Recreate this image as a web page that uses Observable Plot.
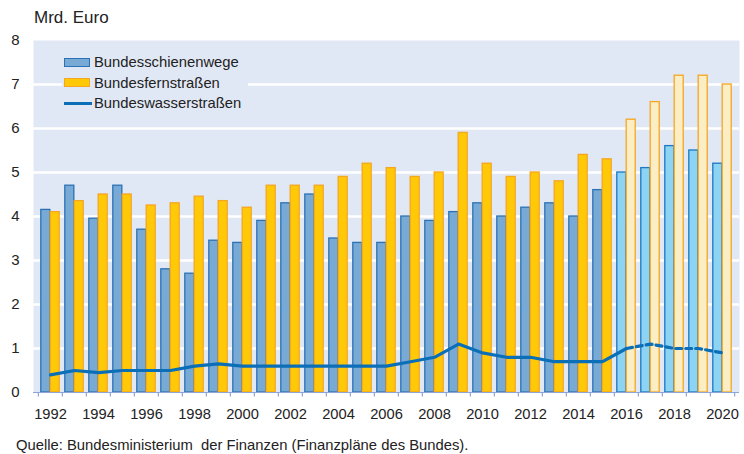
<!DOCTYPE html>
<html>
<head>
<meta charset="utf-8">
<script src="https://cdn.jsdelivr.net/npm/d3@7"></script>
<script src="https://cdn.jsdelivr.net/npm/@observablehq/plot@0.6"></script>
<style>
  html, body { margin: 0; padding: 0; background: #fff; }
  body { font-family: "Liberation Sans", Arial, sans-serif; color: #222; }
  #wrap { position: relative; width: 744px; height: 454px; }
  #unit { position: absolute; left: 34px; top: 8px; font-size: 17px; }
  #legend { position: absolute; left: 62px; top: 50px; width: 186px; height: 62px; background: #e1e8f5; font-size: 14.8px; }
  .row { position: absolute; left: 2px; height: 20px; display: flex; align-items: center; }
  .sw { width: 24px; height: 7px; margin-right: 4px; }
  .ln { width: 28px; height: 3px; margin-right: 2px; background: #0b6fb8; }
  #caption { position: absolute; left: 16px; top: 437px; font-size: 14.8px; white-space: nowrap; }
  #chart { position: absolute; left: 0; top: 0; }
</style>
</head>
<body>
<div id="wrap">
  <div id="chart"></div>
  <div id="unit">Mrd. Euro</div>
  <div id="legend"></div>
  <div id="caption">Quelle: Bundesministerium&nbsp; der Finanzen (Finanzpläne des Bundes).</div>
</div>
<script>
const years = [1992,1993,1994,1995,1996,1997,1998,1999,2000,2001,2002,2003,2004,2005,2006,2007,2008,2009,2010,2011,2012,2013,2014,2015,2016,2017,2018,2019,2020];
const schiene = [4.15,4.7,3.95,4.7,3.7,2.8,2.7,3.45,3.4,3.9,4.3,4.5,3.5,3.4,3.4,4.0,3.9,4.1,4.3,4.0,4.2,4.3,4.0,4.6,5.0,5.1,5.6,5.5,5.2];
const fernstrassen = [4.1,4.35,4.5,4.5,4.25,4.3,4.45,4.35,4.2,4.7,4.7,4.7,4.9,5.2,5.1,4.9,5.0,5.9,5.2,4.9,5.0,4.8,5.4,5.3,6.2,6.6,7.2,7.2,7.0];
const wasser = [0.4,0.5,0.45,0.5,0.5,0.5,0.6,0.65,0.6,0.6,0.6,0.6,0.6,0.6,0.6,0.7,0.8,1.1,0.9,0.8,0.8,0.7,0.7,0.7,1.0,1.1,1.0,1.0,0.9];
const seriesNames = ["Bundesschienenwege","Bundesfernstraßen","Bundeswasserstraßen"];
const firstProjection = 2016;
const yTicks = [0,1,2,3,4,5,6,7,8];
const xLabelTicks = years.filter(y => y % 2 === 0);

const rows = years.map((y, i) => ({year: y, s: schiene[i], f: fernstrassen[i], w: wasser[i], proj: y >= firstProjection}));

const W = 744, H = 425, mL = 33, mR = 5, mT = 40, mB = 33;
const bw = (W - mL - mR) / years.length;
const outer = 2.8;
const half = bw / 2;

const solid = rows.filter(d => d.year <= firstProjection);
const dashed = rows.filter(d => d.year >= firstProjection);

const chart = Plot.plot({
  width: W, height: H,
  marginLeft: mL, marginRight: mR, marginTop: mT, marginBottom: mB,
  style: {fontFamily: '"Liberation Sans", Arial, sans-serif', color: "#222", background: "transparent"},
  x: {type: "band", domain: years, padding: 0},
  y: {domain: [0, 8]},
  marks: [
    Plot.frame({fill: "#e1e8f5", stroke: null}),
    Plot.ruleY(yTicks.filter(t => t > 0 && t < 8), {stroke: "#fff", strokeWidth: 2.5}),
    Plot.barY(rows, {x: "year", y: "s", insetLeft: outer, insetRight: half,
      fill: d => d.proj ? "#8dd3f3" : "#79aad6", stroke: d => d.proj ? "#1b78c2" : "#2a72b5", strokeWidth: 1.3}),
    Plot.barY(rows, {x: "year", y: "f", insetLeft: half, insetRight: outer,
      fill: d => d.proj ? "#fbedc4" : "#ffc907", stroke: "#f5a623", strokeWidth: 1.3}),
    Plot.line(solid, {x: "year", y: "w", stroke: "#0b6fb8", strokeWidth: 3.2}),
    Plot.line(dashed, {x: "year", y: "w", stroke: "#0b6fb8", strokeWidth: 3.2, strokeDasharray: "6,4"}),
    Plot.ruleY([0], {stroke: "#8fa5d8", strokeWidth: 1.2}),
    Plot.ruleX(years, {x: d => d, dx: -half, y1: 0, y2: -0.1, stroke: "#8fa5d8", strokeWidth: 1.2}),
    Plot.ruleX(years.slice(-1), {x: d => d, dx: half, y1: 0, y2: -0.1, stroke: "#8fa5d8", strokeWidth: 1.2}),
    Plot.axisX({ticks: xLabelTicks, tickFormat: d => String(d), tickSize: 0, tickPadding: 16, fontSize: 14.7, label: null}),
    Plot.axisY({ticks: yTicks, tickSize: 0, tickPadding: 14, fontSize: 15, label: null})
  ]
});
document.getElementById("chart").appendChild(chart);

const legend = document.getElementById("legend");
const legendItems = [
  {name: seriesNames[0], kind: "sw", fill: "#79aad6", stroke: "#2a72b5"},
  {name: seriesNames[1], kind: "sw", fill: "#ffc907", stroke: "#f5a623"},
  {name: seriesNames[2], kind: "ln"}
];
legendItems.forEach((it, i) => {
  const r = document.createElement("div");
  r.className = "row";
  r.style.top = (2 + i * 20.5) + "px";
  const s = document.createElement("span");
  s.className = it.kind;
  if (it.kind === "sw") { s.style.background = it.fill; s.style.border = "1px solid " + it.stroke; }
  r.appendChild(s);
  const t = document.createElement("span");
  t.textContent = it.name;
  r.appendChild(t);
  legend.appendChild(r);
});
</script>
</body>
</html>
